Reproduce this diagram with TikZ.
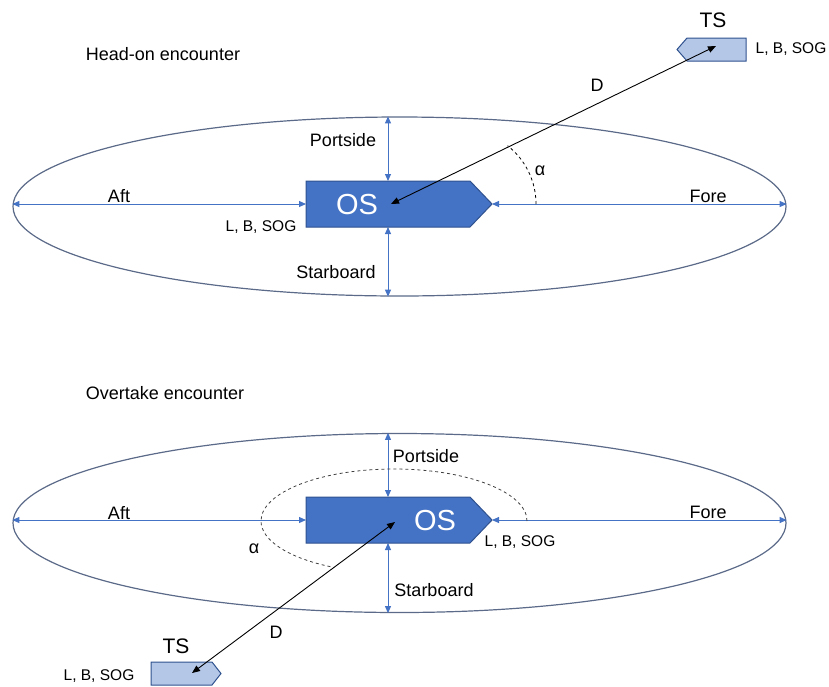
\documentclass[tikz,border=0pt]{standalone}
\usepackage{fontspec}
\setmainfont{Liberation Sans}
\usetikzlibrary{arrows.meta,shapes.geometric}
\definecolor{osblue}{HTML}{4472C4}
\definecolor{osedge}{HTML}{2F528F}
\definecolor{tsfill}{HTML}{B4C7E7}
\definecolor{zonecol}{HTML}{5B6A88}
\tikzset{
  lbl/.style={font=\fontsize{18}{20}\selectfont, anchor=base, inner sep=0pt},
  data/.style={font=\fontsize{15.5}{17}\selectfont, anchor=base, inner sep=0pt},
  shipname/.style={font=\fontsize{21}{24}\selectfont, anchor=base, inner sep=0pt},
  osname/.style={font=\fontsize{29}{32}\selectfont, anchor=base, inner sep=0pt, white},
  zone/.style={draw=zonecol, line width=1.2pt, ellipse, minimum width=773pt, minimum height=179pt, inner sep=0pt},
  dist/.style={osblue, line width=1pt, {Triangle[length=7pt,width=6pt]}-{Triangle[length=7pt,width=6pt]}},
  rng/.style={black, line width=0.9pt, {Triangle[length=8pt,width=6.5pt]}-{Triangle[length=8pt,width=6.5pt]}},
  ownship/.style={fill=osblue, draw=osedge, line width=1pt},
  target/.style={fill=tsfill, draw=osedge, line width=1pt},
}
\begin{document}
\begin{tikzpicture}[x=1pt, y=-1pt]
	\useasboundingbox (0,0) rectangle (829,686);

	% head-on encounter
	\node[zone] (zoneA) at (399.5,206.5) {};
	\coordinate (osA-port) at (388,181);
	\coordinate (osA-stbd) at (388,227);
	\coordinate (osA-aft) at (306,204);
	\coordinate (osA-bow) at (492,204);
	\coordinate (osA-c) at (391,204);
	\coordinate (tsA-c) at (716,46);
	\coordinate (alphaA-end) at (536,204);
	\draw[dist] (zoneA.west |- osA-aft) -- (osA-aft);
	\draw[dist] (osA-bow) -- (zoneA.east |- osA-bow);
	\draw[dist] (osA-port |- zoneA.north) -- (osA-port);
	\draw[dist] (osA-stbd) -- (osA-stbd |- zoneA.south);
	\draw[ownship] (306,181) -- (470,181) -- (osA-bow) -- (470,227) -- (306,227) -- cycle;
	\draw[target] (746,38) -- (687,38) -- (677,49.5) -- (687,61) -- (746,61) -- cycle;
	\draw[dashed, line width=0.8pt] (alphaA-end) arc[start angle=0, end angle=52, radius=74pt];
	\draw[rng] (osA-c) -- (tsA-c);
	\node[lbl] (titleA) at (163,60.5) {Head-on encounter};
	\node[shipname] (tsA-name) at (713,27.5) {TS};
	\node[data] (tsA-data) at (791,53.5) {L, B, SOG};
	\node[lbl] (dA) at (597,91.5) {D};
	\node[lbl] (portA) at (343,146.5) {Portside};
	\node[lbl] (alphaA) at (540,175) {α};
	\node[lbl] (aftA) at (119,202.5) {Aft};
	\node[lbl] (foreA) at (708,202.5) {Fore};
	\node[osname] (osA-name) at (357,214.4) {OS};
	\node[data] (osA-data) at (261,231.5) {L, B, SOG};
	\node[lbl] (stbdA) at (336,278.5) {Starboard};

	% overtake encounter
	\node[zone] (zoneB) at (399.5,523) {};
	\coordinate (osB-port) at (388,497);
	\coordinate (osB-stbd) at (388,543);
	\coordinate (osB-aft) at (306,520);
	\coordinate (osB-bow) at (492,520);
	\coordinate (osB-c) at (395,522);
	\coordinate (tsB-c) at (192,673);
	\coordinate (alphaB-end) at (527,521);
	\draw[dist] (zoneB.west |- osB-aft) -- (osB-aft);
	\draw[dist] (osB-bow) -- (zoneB.east |- osB-bow);
	\draw[dist] (osB-port |- zoneB.north) -- (osB-port);
	\draw[dist] (osB-stbd) -- (osB-stbd |- zoneB.south);
	\draw[dashed, line width=0.8pt, black!75] (alphaB-end) arc[start angle=0, end angle=243, x radius=133pt, y radius=52pt];
	\draw[ownship] (306,497) -- (470,497) -- (osB-bow) -- (470,543) -- (306,543) -- cycle;
	\draw[target] (151,662) -- (212,662) -- (221,673.5) -- (212,685) -- (151,685) -- cycle;
	\draw[rng] (osB-c) -- (tsB-c);
	\node[lbl] (titleB) at (165,399.5) {Overtake encounter};
	\node[lbl] (portB) at (426,462.5) {Portside};
	\node[lbl] (aftB) at (119,519.5) {Aft};
	\node[lbl] (foreB) at (708,518.5) {Fore};
	\node[osname] (osB-name) at (435,530.4) {OS};
	\node[data] (osB-data) at (520,546.5) {L, B, SOG};
	\node[lbl] (alphaB) at (254,553) {α};
	\node[lbl] (stbdB) at (434,596.5) {Starboard};
	\node[lbl] (dB) at (276,638.5) {D};
	\node[shipname] (tsB-name) at (176,653.5) {TS};
	\node[data] (tsB-data) at (99,680.5) {L, B, SOG};
\end{tikzpicture}
\end{document}
